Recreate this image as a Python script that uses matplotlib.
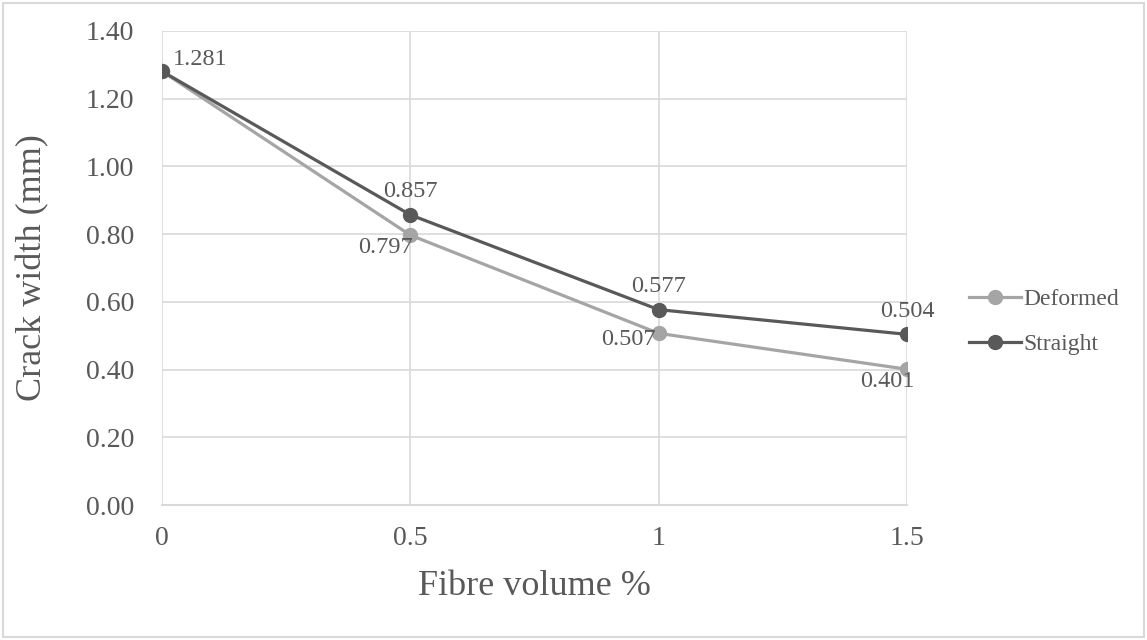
import matplotlib.pyplot as plt

# Fibre volume (%) and crack widths (mm)
fibre_volume = [0, 0.5, 1, 1.5]
deformed = [1.281, 0.797, 0.507, 0.401]
straight = [1.281, 0.857, 0.577, 0.504]
y_ticks = [0.0, 0.2, 0.4, 0.6, 0.8, 1.0, 1.2, 1.4]

plt.rcParams['font.family'] = ['Liberation Serif', 'DejaVu Serif']
text_col = '#595959'

fig = plt.figure(figsize=(11.47, 6.4), dpi=100)
ax = fig.add_axes([0.1412, 0.2109, 0.6496, 0.7407])

c_def = '#A5A5A5'
c_str = '#595959'
ax.plot(fibre_volume, deformed, color=c_def, lw=2.3, marker='o', ms=10, label='Deformed', zorder=3)
ax.plot(fibre_volume, straight, color=c_str, lw=2.3, marker='o', ms=10, label='Straight', zorder=4)

# data labels
fs_lab = 17.5
ax.annotate(f'{straight[0]:.3f}', (fibre_volume[0], straight[0]), xytext=(8, 1),
            textcoords='offset points', fontsize=fs_lab, color=text_col, ha='left', va='bottom')
for x, y in zip(fibre_volume[1:], straight[1:]):
    ax.annotate(f'{y:.3f}', (x, y), xytext=(0, 9), textcoords='offset points',
                fontsize=fs_lab, color=text_col, ha='center', va='bottom')
ax.annotate(f'{deformed[1]:.3f}', (fibre_volume[1], deformed[1]), xytext=(2, -1),
            textcoords='offset points', fontsize=fs_lab, color=text_col, ha='right', va='top')
ax.annotate(f'{deformed[2]:.3f}', (fibre_volume[2], deformed[2]), xytext=(-2, 3),
            textcoords='offset points', fontsize=fs_lab, color=text_col, ha='right', va='top')
ax.annotate(f'{deformed[3]:.3f}', (fibre_volume[3], deformed[3]), xytext=(-14, -1),
            textcoords='offset points', fontsize=fs_lab, color=text_col, ha='center', va='top')

ax.set_xlim(0, 1.5)
ax.set_ylim(0, 1.4)
ax.set_xticks(fibre_volume)
ax.set_xticklabels(['0', '0.5', '1', '1.5'])
ax.set_yticks(y_ticks)
ax.set_yticklabels([f'{t:.2f}' for t in y_ticks])
ax.tick_params(axis='both', length=0, labelsize=20, colors=text_col)
ax.tick_params(axis='x', pad=15)
ax.tick_params(axis='y', pad=20)
ax.grid(True, color='#D9D9D9', lw=1.2)
ax.set_axisbelow(True)
for s in ['top', 'right', 'left']:
    ax.spines[s].set_visible(False)
ax.spines['bottom'].set_color('#D9D9D9')
ax.spines['bottom'].set_linewidth(1.5)

ax.set_xlabel('Fibre volume %', fontsize=26, color=text_col, labelpad=14)
ax.set_ylabel('Crack width (mm)', fontsize=26, color=text_col, labelpad=26)

fig.legend(loc='center left', bbox_to_anchor=(0.826, 0.497), frameon=False,
           fontsize=17, labelcolor=text_col, handlelength=2.2, handletextpad=0.1,
           labelspacing=1.0)

# chart border
fig.patches.append(plt.Rectangle((0.003, 0.005), 0.994, 0.99, transform=fig.transFigure,
                                 fill=False, edgecolor='#D9D9D9', lw=1.5))

fig.savefig('out.png', dpi=100)
